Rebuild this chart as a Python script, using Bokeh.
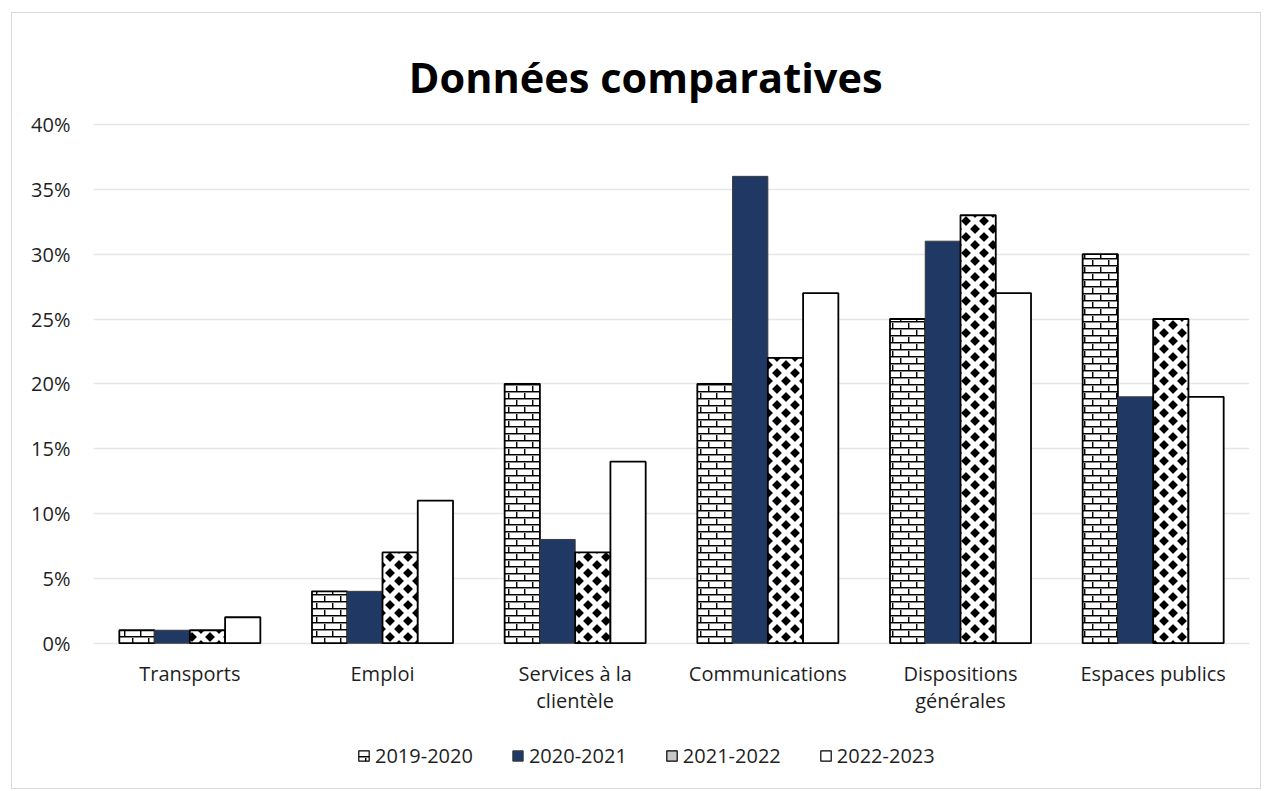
import zlib, struct, base64
from bokeh.plotting import figure
from bokeh.models import (FactorRange, Range1d, ColumnDataSource, Legend, LegendItem,
                          PrintfTickFormatter, ImageURLTexture, LabelSet, Label)
from bokeh.core.properties import value
from bokeh.transform import dodge
from bokeh.embed import file_html
from bokeh.resources import INLINE

title_text = "Données comparatives"
categories = ["Transports", "Emploi", "Services à la clientèle", "Communications",
              "Dispositions générales", "Espaces publics"]
category_labels = ["Transports", "Emploi", "Services à la\nclientèle", "Communications",
                   "Dispositions\ngénérales", "Espaces publics"]
series_names = ["2019-2020", "2020-2021", "2021-2022", "2022-2023"]
v2019 = [1, 4, 20, 20, 25, 30]
v2020 = [1, 4, 8, 36, 31, 19]
v2021 = [1, 7, 7, 22, 33, 25]
v2022 = [2, 11, 14, 27, 27, 19]
y_ticks = [0, 5, 10, 15, 20, 25, 30, 35, 40]


def png_uri(w, h, alpha_fn):
    rows = b""
    for y in range(h):
        rows += b"\x00"
        for x in range(w):
            rows += bytes([0, 0, 0, alpha_fn(x, y)])
    def chunk(t, d):
        c = struct.pack(">I", len(d)) + t + d
        return c + struct.pack(">I", zlib.crc32(t + d) & 0xffffffff)
    data = (b"\x89PNG\r\n\x1a\n" + chunk(b"IHDR", struct.pack(">IIBBBBB", w, h, 8, 6, 0, 0, 0))
            + chunk(b"IDAT", zlib.compress(rows)) + chunk(b"IEND", b""))
    return "data:image/png;base64," + base64.b64encode(data).decode()


def brick_alpha(x, y):
    if y in (0, 7):
        return 255
    if y in (1, 8):
        return 120
    if y < 7 and x == 0 or y > 7 and x == 8:
        return 255
    if y < 7 and x == 1 or y > 7 and x == 9:
        return 110
    return 0


def diamond_alpha(x, y):
    cx, cy = x + 0.5, y + 0.5
    best = min((abs(cx - px) ** 0.75 + abs(cy - py) ** 0.75) ** (1 / 0.75)
               for px, py in ((0, 0), (18, 0), (0, 16), (18, 16), (9, 8)))
    if best <= 5.6:
        return 255
    if best <= 6.4:
        return 110
    return 0


hatches = {"brick": ImageURLTexture(url=png_uri(16, 14, brick_alpha)),
           "diam": ImageURLTexture(url=png_uri(18, 16, diamond_alpha))}

source = ColumnDataSource(dict(cat=categories, a=v2019, b=v2020, c=v2021, d=v2022))

# the frame spans the whole card; the value axis 0-40 % occupies its middle part
p = figure(width=1250, height=777, x_range=FactorRange(*categories), y_range=Range1d(-11.05, 48.25),
           output_backend="svg", toolbar_location=None,
           min_border_left=81, min_border_right=13, min_border_top=4, min_border_bottom=4)
p.styles = {"border": "1px solid #d9d9d9", "box-sizing": "border-box",
            "margin-left": "11px", "margin-top": "12px"}

W = 0.183
FONT = "Open Sans"
text_color = "#1f1f1f"

p.vbar(x=dodge("cat", -1.5 * W, range=p.x_range), top="a", width=W, source=source,
       fill_color="white", line_color="black", line_width=1.8,
       hatch_extra=hatches, hatch_pattern=value("brick"), hatch_color="black")
p.vbar(x=dodge("cat", -0.5 * W, range=p.x_range), top="b", width=W, source=source,
       fill_color="#203864", line_color="#3a3a3a", line_width=1)
p.vbar(x=dodge("cat", 0.5 * W, range=p.x_range), top="c", width=W, source=source,
       fill_color="white", line_color="black", line_width=1.8,
       hatch_extra=hatches, hatch_pattern=value("diam"), hatch_color="black")
p.vbar(x=dodge("cat", 1.5 * W, range=p.x_range), top="d", width=W, source=source,
       fill_color="white", line_color="black", line_width=1.8)

# legend proxies: one undrawn row each (NaN height) carrying the legend appearance
nan = float("nan")
r1 = p.vbar(x=[categories[0]], top=[nan], width=W, fill_color="white", line_color="black",
            line_width=1.2, hatch_extra=hatches, hatch_pattern=value("brick"), hatch_color="black")
r2 = p.vbar(x=[categories[0]], top=[nan], width=W, fill_color="#203864", line_color="#3a3a3a")
r3 = p.vbar(x=[categories[0]], top=[nan], width=W, fill_color="#c8c8c8", line_color="black",
            line_width=1.2)
r4 = p.vbar(x=[categories[0]], top=[nan], width=W, fill_color="white", line_color="black",
            line_width=1.2)
legend = Legend(items=[LegendItem(label=n, renderers=[r]) for n, r in zip(series_names, [r1, r2, r3, r4])],
                orientation="horizontal", location=(264, 17), border_line_color=None,
                background_fill_alpha=0,
                label_text_font=FONT, label_text_font_size="20px", label_text_color=text_color,
                glyph_width=13, glyph_height=13, label_standoff=5, spacing=38, margin=0, padding=4)
p.add_layout(legend, "center")

# category labels (two lines where the original wraps)
line1 = [s.split("\n")[0] for s in category_labels]
line2 = [s.split("\n")[1] if "\n" in s else "" for s in category_labels]
lab_src = ColumnDataSource(dict(cat=categories, l1=line1, l2=line2, y=[0] * len(categories)))
for col, off in (("l1", -38), ("l2", -65)):
    p.add_layout(LabelSet(x="cat", y="y", text=col, source=lab_src, y_offset=off,
                          text_align="center", text_baseline="alphabetic",
                          text_font=value(FONT), text_font_size="20px", text_color=text_color))
p.xaxis.visible = False

# chart title, centred a little left of the plot centre as in the original
p.add_layout(Label(x=2.866, y=43.7, text=title_text, text_align="center", text_baseline="alphabetic",
                   text_font=FONT, text_font_size="41.5px", text_font_style="bold",
                   text_color="black"))

p.yaxis.ticker = y_ticks
p.yaxis.formatter = PrintfTickFormatter(format="%d%%")
p.yaxis.axis_line_color = None
p.yaxis.major_tick_line_color = None
p.yaxis.minor_tick_line_color = None
p.yaxis.major_label_text_font = FONT
p.yaxis.major_label_text_font_size = "20px"
p.yaxis.major_label_text_color = text_color
p.yaxis.major_label_standoff = 17

p.xgrid.grid_line_color = None
p.ygrid.grid_line_color = "#e6e6e6"
p.ygrid.grid_line_width = 1.3
p.x_range.range_padding = 0
p.outline_line_color = None
p.background_fill_color = "white"
p.border_fill_color = "white"

open("out.html", "w").write(file_html(p, INLINE))
